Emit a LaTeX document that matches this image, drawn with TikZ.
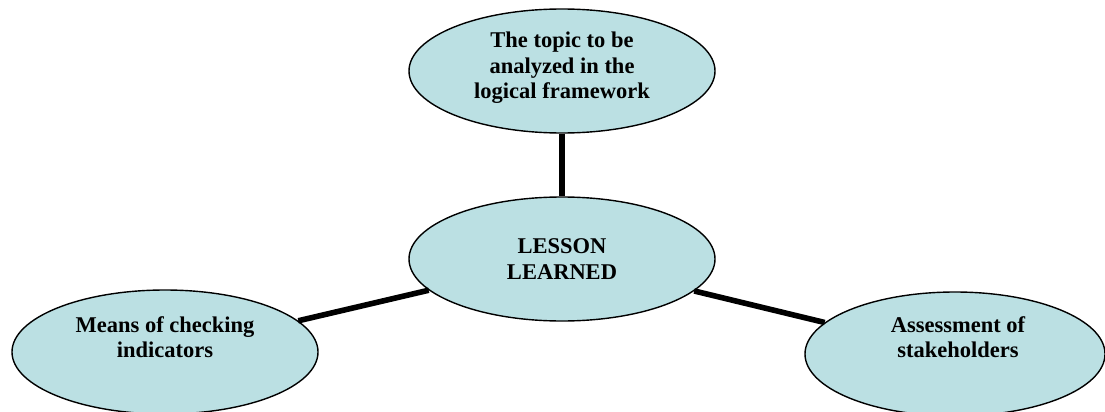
\documentclass[tikz,border=0pt]{standalone}
\usepackage{fontspec}
\setmainfont{Liberation Serif}
\usetikzlibrary{shapes.geometric}
\definecolor{bubble}{RGB}{187,224,227}
\tikzset{
  bubble/.style={ellipse, draw=black, line width=1.4pt, fill=bubble, inner sep=0pt,
    minimum width=306pt, minimum height=124pt},
  lbl/.style={align=center, inner sep=0pt, font=\fontsize{22.5}{25.5}\selectfont\bfseries},
  link/.style={line width=5.6pt}
}
\begin{document}
\begin{tikzpicture}[x=1pt,y=-1pt]
\useasboundingbox (0,0) rectangle (1105,412);
\node[bubble] (top) at (562,71) {};
\node[bubble] (mid) at (562,259) {};
\node[bubble] (left) at (165,352) {};
\node[bubble, minimum width=300pt] (right) at (955,354) {};
\draw[link] (top) -- (mid);
\draw[link] (mid) -- (left);
\draw[link] (mid) -- (right);
\node[lbl] (toptxt) at (562,68) {The topic to be\\analyzed in the\\logical framework};
\node[lbl] (midtxt) at (562,259) {LESSON\\LEARNED};
\node[lbl] (lefttxt) at (165,337) {Means of checking\\indicators};
\node[lbl] (righttxt) at (958,337) {Assessment of\\stakeholders};
\end{tikzpicture}
\end{document}
